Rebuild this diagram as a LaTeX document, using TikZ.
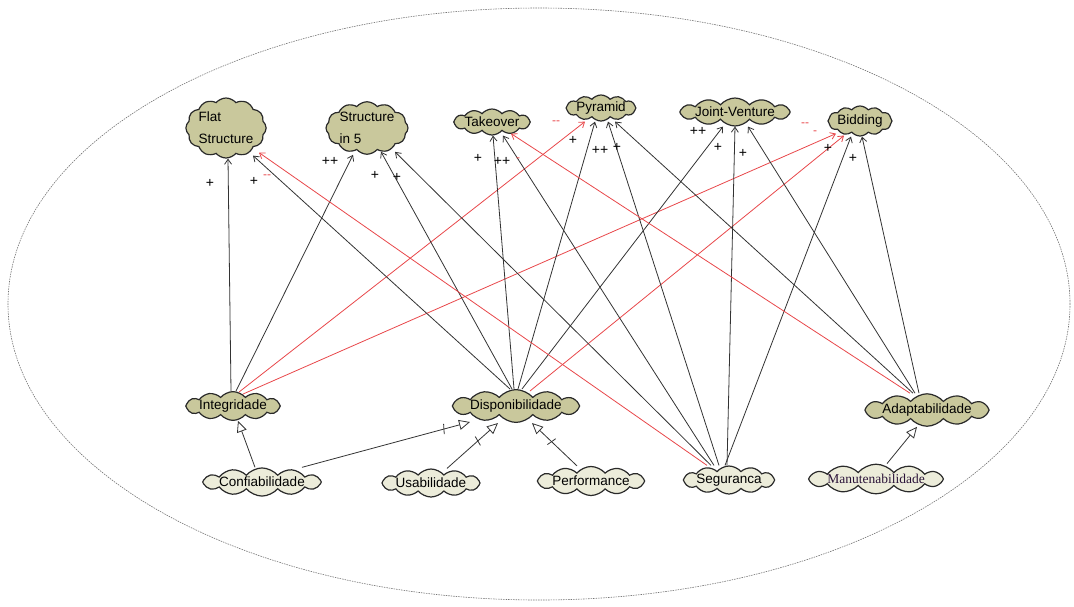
\documentclass[tikz,border=0pt]{standalone}
\usepackage{fontspec}
\setmainfont{Liberation Sans}
\newfontfamily\serifnote{Liberation Serif}
\usetikzlibrary{shapes.symbols,arrows.meta,decorations.markings}

\definecolor{goalfill}{HTML}{C9C89C}
\definecolor{taskfill}{HTML}{ECECDA}
\definecolor{linegray}{HTML}{333333}
\definecolor{outline}{HTML}{2A2A2A}
\definecolor{neg}{HTML}{E8474A}
\definecolor{manutxt}{HTML}{2A1238}

\begin{document}
\begin{tikzpicture}[x=1pt,y=-1pt,
  softgoal/.style={cloud, cloud puffs=12, cloud puff arc=100, cloud ignores aspect,
    draw=outline, line width=1.2pt, fill=goalfill, inner sep=0pt,
    font=\fontsize{13.5}{15}\selectfont},
  twoline/.style={align=left, font=\fontsize{13.5}{22}\selectfont},
  subgoal/.style={softgoal, fill=taskfill},
  contrib/.style={draw=linegray, line width=0.8pt, -{Straight Barb[length=5pt,width=7pt]}},
  hurt/.style={contrib, draw=neg},
  gen/.style={draw=linegray, line width=0.8pt, -{Triangle[open,length=11pt,width=10pt]}},
  gentick/.style={gen, postaction={decorate, decoration={markings,
    mark=at position -27pt with {\draw[-, linegray, line width=0.8pt] (-1pt,-5pt) -- (1pt,5pt);}}}},
  plus/.style={font=\fontsize{14}{14}\selectfont, inner sep=0pt},
  minus/.style={font=\fontsize{12}{12}\selectfont, text=neg, inner sep=0pt},
]
\useasboundingbox (0,0) rectangle (1074,606);

% boundary
\draw[gray!90!black, line width=0.6pt, dash pattern=on 1.5pt off 1pt]
  (539,304) ellipse [x radius=531pt, y radius=296pt];

% operationalisations (top row)
\node[softgoal, twoline, minimum width=78pt, minimum height=60pt] (flat) at (226,128) {Flat\\Structure};
\node[softgoal, twoline, minimum width=82pt, minimum height=52pt] (s5) at (367,128) {Structure\\in 5};
\node[softgoal, minimum width=72pt, minimum height=26pt] (take) at (492,122) {Takeover};
\node[softgoal, minimum width=68pt, minimum height=26pt] (pyr) at (601,108) {Pyramid};
\node[softgoal, minimum width=106pt, minimum height=28pt] (jv) at (735,112) {Joint-Venture};
\node[softgoal, minimum width=64pt, minimum height=30pt] (bid) at (860,121) {Bidding};

% quality softgoals
\node[softgoal, minimum width=93pt, minimum height=28pt] (integ) at (233,406) {Integridade};
\node[softgoal, minimum width=124pt, minimum height=29pt] (disp) at (516,406) {Disponibilidade};
\node[softgoal, minimum width=122pt, minimum height=28pt] (adapt) at (927,410) {Adaptabilidade};

% refined softgoals
\node[subgoal, minimum width=114pt, minimum height=28pt] (conf) at (262,482) {Confiabilidade};
\node[subgoal, minimum width=98pt, minimum height=28pt] (usab) at (431,483) {Usabilidade};
\node[subgoal, minimum width=104pt, minimum height=29pt] (perf) at (591,481) {Performance};
\node[subgoal, minimum width=84pt, minimum height=28pt] (segu) at (729,480) {Seguranca};
\node[subgoal, minimum width=124pt, minimum height=29pt, text=manutxt,
      font=\serifnote\fontsize{13.5}{15}\selectfont] (manu) at (876,479) {Manutenabilidade};

% generalisation links
\draw[gen] ([xshift=-7]conf.north) -- ([xshift=5]integ.south);
\draw[gentick] ([xshift=40]conf.north) -- ([xshift=-46,yshift=1]disp.south);
\draw[gentick] ([xshift=16]usab.north) -- ([xshift=-18]disp.south);
\draw[gentick] ([xshift=-14]perf.north) -- ([xshift=16]disp.south);
\draw[gen] ([xshift=11]manu.north) -- ([xshift=-10]adapt.south);

% contributions from Integridade
\draw[contrib] ([xshift=-2]integ.north) -- ([xshift=2]flat.south);
\draw[contrib] ([xshift=3]integ.north) -- ([xshift=-14]s5.south);
\draw[hurt] ([xshift=6,yshift=-1]integ.north) -- ([xshift=-16]pyr.south);
\draw[hurt] ([xshift=10,yshift=-3]integ.north) -- ([xshift=-24,yshift=3]bid.south);

% contributions from Disponibilidade
\draw[contrib] ([xshift=-6]disp.north) -- ([xshift=27,yshift=3]flat.south);
\draw[contrib] ([xshift=-4]disp.north) -- ([xshift=14,yshift=3]s5.south);
\draw[contrib] ([xshift=-2]disp.north) -- ([xshift=1]take.south);
\draw[contrib] ([xshift=2]disp.north) -- ([xshift=-6]pyr.south);
\draw[contrib] ([xshift=6]disp.north) -- ([xshift=-12]jv.south);
\draw[hurt] ([xshift=14,yshift=-2]disp.north) -- ([xshift=-16,yshift=1]bid.south);

% contributions from Seguranca
\draw[hurt] ([xshift=-22]segu.north) -- ([xshift=33,yshift=6]flat.south);
\draw[contrib] ([xshift=-18]segu.north) -- ([xshift=28,yshift=3]s5.south);
\draw[contrib] ([xshift=-15]segu.north) -- ([xshift=11]take.south);
\draw[contrib] ([xshift=-10]segu.north) -- ([xshift=7]pyr.south);
\draw[contrib] ([xshift=-2]segu.north) -- (jv.south);
\draw[contrib] ([xshift=-4]segu.north) -- ([xshift=-9]bid.south);

% contributions from Adaptabilidade
\draw[hurt] ([xshift=-17]adapt.north) -- ([xshift=19,yshift=2]take.south);
\draw[contrib] ([xshift=-14]adapt.north) -- ([xshift=14]pyr.south);
\draw[contrib] ([xshift=-12]adapt.north) -- ([xshift=13]jv.south);
\draw[contrib] ([xshift=-8]adapt.north) -- ([xshift=2]bid.south);

% contribution labels
\node[plus] (l1) at (210,183) {+};
\node[plus] (l2) at (254,181) {+};
\node[minus] (l3) at (267,177) {{-}{-}};
\node[plus] (l4) at (330,161) {++};
\node[plus] (l5) at (375,175) {+};
\node[plus] (l6) at (397,177) {+};
\node[plus] (l7) at (478,158) {+};
\node[plus] (l8) at (502,161) {++};
\node[minus] (l9) at (518,160) {-};
\node[minus] (l10) at (556,123) {{-}{-}};
\node[plus] (l11) at (573,140) {+};
\node[plus] (l12) at (600,150) {++};
\node[plus] (l13) at (617,147) {+};
\node[plus] (l14) at (698,131) {++};
\node[plus] (l15) at (718,147) {+};
\node[plus] (l16) at (743,153) {+};
\node[minus] (l17) at (805,125) {{-}{-}};
\node[minus] (l18) at (815,133) {-};
\node[plus] (l19) at (828,148) {+};
\node[plus] (l20) at (853,158) {+};
\end{tikzpicture}
\end{document}
